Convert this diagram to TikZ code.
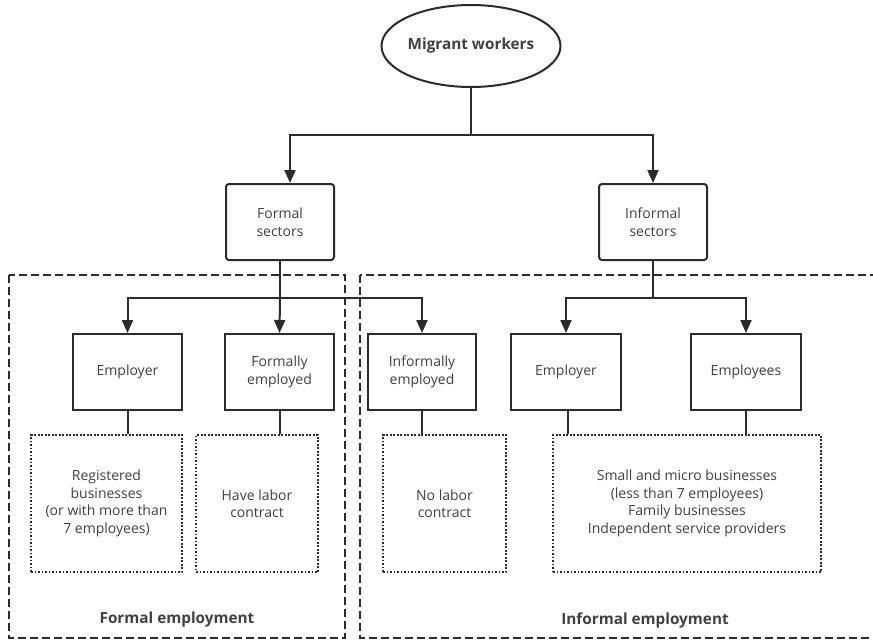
\documentclass[tikz,border=0pt]{standalone}
\usepackage{fontspec}
\setmainfont{Open Sans}
\usetikzlibrary{shapes.geometric,arrows.meta,calc}
\definecolor{ink}{HTML}{2B2B2B}
\definecolor{txt}{HTML}{404040}
\begin{document}
\begin{tikzpicture}[x=1pt,y=-1pt,
  every node/.style={text=txt,font=\fontsize{14}{17.5}\selectfont,align=center,inner sep=0pt},
  solidbox/.style={draw=ink,line width=2pt,rectangle},
  roundbox/.style={solidbox,rounded corners=3pt},
  notebox/.style={draw=ink,line width=1.8pt,dash pattern=on 1.6pt off 1.9pt,rectangle},
  groupbox/.style={draw=ink,line width=2pt,dash pattern=on 8pt off 4pt},
  link/.style={draw=ink,line width=2pt},
  arr/.style={link,-{Triangle[length=13pt,width=11pt]}},
  title/.style={font=\fontsize{15.3}{18}\selectfont\bfseries}]
\useasboundingbox (0,0) rectangle (873,641);

% top node
\node[draw=ink,line width=2pt,ellipse,minimum width=176pt,minimum height=82pt,title] (mig) at (471,46) {Migrant workers};

% sectors
\node[roundbox,minimum width=108pt,minimum height=76pt] (fs) at (280,222) {Formal\\sectors};
\node[roundbox,minimum width=108pt,minimum height=76pt] (is) at (653,222) {Informal\\sectors};

% employment groups
\draw[groupbox] (9,275) rectangle (345,638);
\draw[groupbox] (360,275) rectangle (880,638);

% actors
\node[solidbox,minimum width=109pt,minimum height=76pt] (e1) at (127.5,372) {Employer};
\node[solidbox,minimum width=109pt,minimum height=76pt] (fe) at (279.5,372) {Formally\\employed};
\node[solidbox,minimum width=108pt,minimum height=76pt] (ie) at (422,372) {Informally\\employed};
\node[solidbox,minimum width=110pt,minimum height=76pt] (e2) at (566,372) {Employer};
\node[solidbox,minimum width=110pt,minimum height=76pt] (ee) at (746,372) {Employees};

% descriptions
\node[notebox,minimum width=151pt,minimum height=137pt] (reg) at (106.5,503.5) {Registered\\businesses\\(or with more than\\7 employees)};
\node[notebox,minimum width=122pt,minimum height=137pt] (have) at (257,503.5) {Have labor\\contract};
\node[notebox,minimum width=123pt,minimum height=137pt] (nolab) at (444.5,503.5) {No labor\\contract};
\node[notebox,minimum width=268pt,minimum height=137pt] (small) at (687,503.5) {Small and micro businesses\\(less than 7 employees)\\Family businesses\\Independent service providers};

% group labels
\node[title] (fl) at (177,620) {Formal employment};
\node[title] (il) at (645,620) {Informal employment};

% connectors
\coordinate (j1) at (471,135);
\draw[link] (mig.south) -- (j1);
\draw[arr] (j1) -| ([xshift=10pt]fs.north);
\draw[arr] (j1) -| (is.north);

\coordinate (j2) at (280,298);
\draw[link] (fs.south) -- (j2);
\draw[arr] (j2) -| (e1.north);
\draw[arr] (j2) -- (fe.north);
\draw[arr] (j2) -| (ie.north);

\coordinate (j3) at (653,298);
\draw[link] (is.south) -- (j3);
\draw[arr] (j3) -| (e2.north);
\draw[arr] (j3) -| (ee.north);

\draw[link] (e1.south) -- (e1.south |- reg.north);
\draw[link] (fe.south) -- (fe.south |- have.north);
\draw[link] (ie.south) -- (ie.south |- nolab.north);
\draw[link] ([xshift=2pt]e2.south) -- ([xshift=2pt]e2.south |- small.north);
\draw[link] (ee.south) -- (ee.south |- small.north);
\end{tikzpicture}
\end{document}
